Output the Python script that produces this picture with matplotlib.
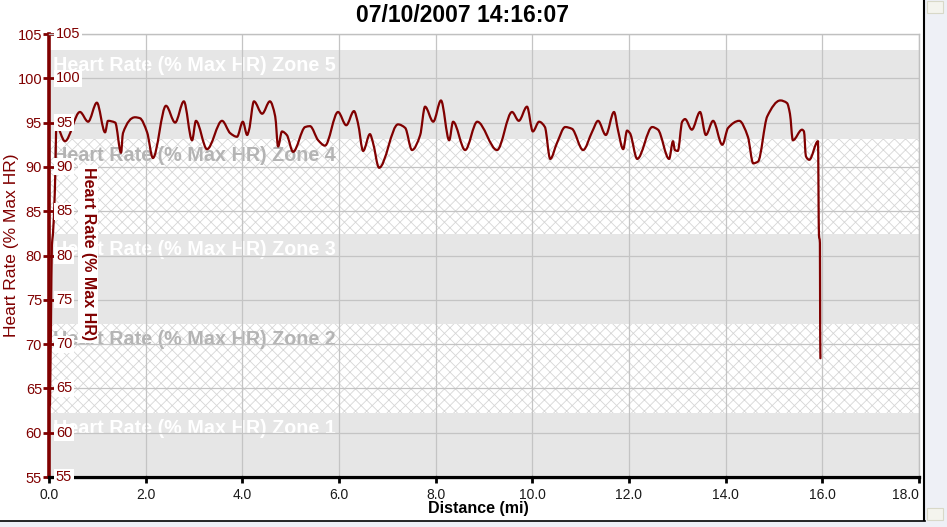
import matplotlib
matplotlib.use("Agg")
import matplotlib.pyplot as plt
import numpy as np
from matplotlib.patches import Rectangle, PathPatch
from matplotlib.lines import Line2D
from matplotlib.path import Path

plt.rcParams["font.family"] = ["Liberation Sans", "DejaVu Sans"]
plt.rcParams["hatch.linewidth"] = 0.6

# ---- data ----
title = "07/10/2007 14:16:07"
distance_mi = [
    0.02, 0.04, 0.06, 0.08, 0.12, 0.155, 0.33, 0.64, 0.81, 0.99,
    1.16, 1.22, 1.37, 1.49, 1.53, 1.78, 1.88, 2.03, 2.15, 2.42,
    2.61, 2.79, 2.96, 3.04, 3.27, 3.58, 3.75, 3.89, 4.01, 4.10,
    4.14, 4.24, 4.41, 4.57, 4.68, 4.74, 4.82, 4.92, 5.05, 5.30,
    5.40, 5.57, 5.71, 5.98, 6.15, 6.31, 6.39, 6.50, 6.64, 6.70,
    6.83, 7.22, 7.37, 7.51, 7.68, 7.78, 7.95, 8.11, 8.28, 8.36,
    8.61, 8.86, 9.27, 9.58, 9.72, 9.89, 10.01, 10.14, 10.26, 10.37,
    10.51, 10.68, 10.82, 11.05, 11.24, 11.36, 11.52, 11.69, 11.77, 11.88,
    11.96, 12.02, 12.17, 12.48, 12.60, 12.83, 12.91, 12.95, 13.01, 13.10,
    13.16, 13.30, 13.47, 13.59, 13.74, 13.93, 14.05, 14.28, 14.46, 14.57,
    14.67, 14.86, 15.13, 15.27, 15.33, 15.39, 15.58, 15.62, 15.66, 15.73,
    15.91, 15.93, 15.95, 15.955, 15.96,
]
hr_pct = [
    63.1, 71.6, 81.2, 82.3, 87.1, 94.6, 92.9, 96.2, 95.1, 97.25,
    93.9, 95.2, 95.0, 91.6, 93.8, 95.6, 95.5, 93.9, 91.0, 96.9,
    95.0, 97.4, 93.0, 95.2, 92.0, 95.2, 93.8, 93.4, 95.1, 93.6,
    94.2, 97.4, 96.0, 97.4, 95.7, 92.3, 94.0, 93.6, 91.7, 94.5,
    94.6, 93.0, 92.4, 96.2, 94.7, 96.3, 95.0, 91.8, 93.7, 92.8,
    89.9, 94.8, 94.4, 91.9, 93.6, 96.8, 95.1, 97.5, 93.0, 95.1,
    91.9, 95.1, 91.9, 96.2, 95.2, 96.8, 94.0, 95.1, 94.5, 90.9,
    92.7, 94.5, 94.3, 91.9, 94.0, 95.2, 93.6, 96.2, 94.2, 92.0,
    94.1, 93.8, 90.9, 94.5, 94.2, 90.9, 92.9, 91.9, 91.8, 95.1,
    95.4, 94.2, 96.2, 93.6, 95.2, 92.5, 94.4, 95.2, 93.4, 90.4,
    90.6, 95.7, 97.5, 97.2, 96.0, 93.0, 94.2, 94.0, 91.2, 90.8,
    92.9, 82.3, 81.4, 71.8, 68.4,
]

zone_names = ["Heart Rate (% Max HR) Zone 1", "Heart Rate (% Max HR) Zone 2",
              "Heart Rate (% Max HR) Zone 3", "Heart Rate (% Max HR) Zone 4",
              "Heart Rate (% Max HR) Zone 5"]
zone_low = [55.2, 62.2, 72.3, 82.4, 93.1]
zone_high = [62.2, 72.3, 82.4, 93.1, 103.2]
zone_hatched = [False, True, False, True, False]

x_ticks = [0, 2, 4, 6, 8, 10, 12, 14, 16, 18]
y_ticks = [55, 60, 65, 70, 75, 80, 85, 90, 95, 100, 105]

DARK_RED = "#800000"
W, H = 947, 527


def smooth_path(x, y):
    """Monotone cubic (Hermite -> Bezier) path through the points, like the
    smoothed trace of the original software."""
    x, y = np.asarray(x, float), np.asarray(y, float)
    h = np.diff(x)
    d = np.diff(y) / h
    m = np.zeros_like(y)
    m[0], m[-1] = d[0], d[-1]
    for i in range(1, len(y) - 1):
        if d[i - 1] * d[i] > 0:
            w1 = 2 * h[i] + h[i - 1]
            w2 = h[i] + 2 * h[i - 1]
            m[i] = (w1 + w2) / (w1 / d[i - 1] + w2 / d[i])
    verts = [(x[0], y[0])]
    codes = [Path.MOVETO]
    for i in range(len(h)):
        verts += [(x[i] + h[i] / 3, y[i] + m[i] * h[i] / 3),
                  (x[i + 1] - h[i] / 3, y[i + 1] - m[i + 1] * h[i] / 3),
                  (x[i + 1], y[i + 1])]
        codes += [Path.CURVE4] * 3
    return Path(verts, codes)


fig = plt.figure(figsize=(W / 100, H / 100), dpi=100)
ax = fig.add_axes([49 / W, 50 / H, 870 / W, 443 / H])

# zone bands
for lo, hi, hatched, name in zip(zone_low, zone_high, zone_hatched, zone_names):
    if hatched:
        ax.axhspan(lo, hi, facecolor="white", edgecolor="#d6d6d6", hatch="xxx",
                   linewidth=0, zorder=0.2)
        tcol = "#b4b4b4"
    else:
        ax.axhspan(lo, hi, facecolor="#e6e6e6", edgecolor="none", zorder=0.2)
        tcol = "white"
    ax.annotate(name, xy=(0.08, hi), xytext=(0, -4.5), textcoords="offset points",
                ha="left", va="top", fontsize=14.2, fontweight="bold", color=tcol,
                zorder=0.3)

ax.set_axisbelow(True)
ax.grid(True, color="#c4c4c4", linewidth=0.9)

ax.add_patch(PathPatch(smooth_path(distance_mi, hr_pct), fill=False,
                       edgecolor=DARK_RED, linewidth=1.6, zorder=3,
                       joinstyle="round", capstyle="round"))

ax.set_xlim(0, 18)
ax.set_ylim(55, 105)
ax.set_xticks(x_ticks)
ax.set_xticklabels([f"{v:.1f}" for v in x_ticks])
ax.set_yticks(y_ticks)
ax.set_yticklabels([str(v) for v in y_ticks])

ax.tick_params(axis="y", colors=DARK_RED, direction="inout", length=8, width=2,
               labelsize=10.5, pad=1)
ax.tick_params(axis="x", colors="black", direction="out", length=4, width=2,
               labelsize=10, labelcolor="#1a1a1a", pad=4)
ax.get_xticklabels()[-1].set_horizontalalignment("right")

for side in ("top", "right"):
    ax.spines[side].set_color("#c0c0c0")
    ax.spines[side].set_linewidth(1)
ax.spines["left"].set_color(DARK_RED)
ax.spines["left"].set_linewidth(2.6)
ax.spines["bottom"].set_color("black")
ax.spines["bottom"].set_linewidth(2.4)

# inner copy of the y tick labels
for v in y_ticks:
    ax.annotate(str(v), xy=(0, v), xycoords=("axes fraction", "data"),
                xytext=(5, 0), textcoords="offset points", ha="left",
                va="center", fontsize=10.5, color=DARK_RED, zorder=4,
                bbox=dict(boxstyle="square,pad=0.1", fc="white", ec="none"))

fig.text(478 / W, 1 - 509 / H, "Distance (mi)", ha="center", va="center",
         fontsize=11.5, fontweight="bold")
fig.text(12 / W, 1 - 245 / H, "Heart Rate (% Max HR)", rotation=90,
         ha="center", va="center", fontsize=12.5, color=DARK_RED)
fig.text(88 / W, 1 - 254 / H, "Heart Rate (% Max HR)", rotation=270,
         ha="center", va="center", fontsize=11.5, fontweight="bold",
         color=DARK_RED, zorder=5,
         bbox=dict(boxstyle="square,pad=0.15", fc="white", ec="none"))
fig.text(462 / W, 1 - 16 / H, title, ha="center", va="center", fontsize=16.5,
         fontweight="bold")

# window chrome: scrollbar on the right, frame line at the bottom
fig.add_artist(Rectangle((925 / W, 0), 22 / W, 1, transform=fig.transFigure,
                         facecolor="#eef0f6", edgecolor="none", zorder=-1))
for y0 in (1 - 13 / H, 7 / H):
    fig.add_artist(Rectangle((927 / W, y0), 16 / W, 12 / H,
                             transform=fig.transFigure, facecolor="#f4f4ee",
                             edgecolor="#d8d8c8", linewidth=0.8, zorder=-1))
fig.add_artist(Line2D([924 / W, 924 / W], [6 / H, 1], transform=fig.transFigure,
                      color="black", linewidth=1.5, zorder=-1))
fig.add_artist(Rectangle((0, 0), 925 / W, 6 / H, transform=fig.transFigure,
                         facecolor="#eef0f6", edgecolor="none", zorder=-1))
fig.add_artist(Line2D([0, 925 / W], [6 / H, 6 / H], transform=fig.transFigure,
                      color="black", linewidth=1.2, zorder=-1))

fig.savefig("out.png", dpi=100)
